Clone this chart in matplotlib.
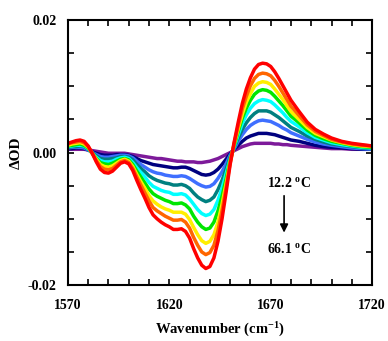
import numpy as np
import matplotlib
matplotlib.use('Agg')
import matplotlib.pyplot as plt
from matplotlib.ticker import MultipleLocator, FixedLocator, FuncFormatter

plt.rcParams['font.family'] = ['Liberation Serif', 'DejaVu Serif']
plt.rcParams['font.weight'] = 'bold'
plt.rcParams['mathtext.fontset'] = 'custom'
plt.rcParams['mathtext.rm'] = 'Liberation Serif:bold'
plt.rcParams['mathtext.it'] = 'Liberation Serif:bold:italic'
plt.rcParams['mathtext.bf'] = 'Liberation Serif:bold'

# wavenumber grid (cm-1)
wn = list(range(1570, 1682, 2)) + [1684, 1688, 1692, 1696, 1700, 1705, 1710, 1715, 1720]

# delta OD (x1e-3), lowest to highest temperature
od_purple = [0.5, 0.5, 0.5, 0.5, 0.5, 0.4, 0.3, 0.2, 0.1, 0.0, -0.1, -0.1, -0.1, -0.1, -0.1, -0.2,
             -0.3, -0.4, -0.5, -0.6, -0.7, -0.8, -0.9, -0.9, -1.0, -1.1, -1.2, -1.3, -1.3, -1.4, -1.4,
             -1.4, -1.5, -1.5, -1.4, -1.3, -1.1, -0.9, -0.6, -0.3, 0.0,
             0.3, 0.6, 0.9, 1.1, 1.3, 1.4, 1.4, 1.4, 1.4, 1.4, 1.3, 1.3, 1.2, 1.2, 1.1,
             1.0, 0.9, 0.8, 0.7, 0.6, 0.6, 0.5, 0.5, 0.5]
od_navy = [0.6, 0.6, 0.7, 0.7, 0.6, 0.4, 0.1, -0.1, -0.3, -0.4, -0.4, -0.4, -0.3, -0.3, -0.3, -0.4,
           -0.6, -0.9, -1.2, -1.4, -1.6, -1.8, -1.9, -2.0, -2.1, -2.2, -2.3, -2.3, -2.2, -2.2, -2.4,
           -2.7, -3.0, -3.3, -3.4, -3.3, -3.0, -2.5, -1.8, -1.0, -0.2,
           0.5, 1.1, 1.7, 2.2, 2.5, 2.7, 2.9, 2.9, 2.9, 2.8, 2.7, 2.5, 2.3, 2.1, 1.9,
           1.7, 1.4, 1.1, 0.9, 0.8, 0.7, 0.6, 0.5, 0.5]
od_blue = [0.7, 0.8, 0.8, 0.8, 0.7, 0.4, 0.0, -0.3, -0.6, -0.7, -0.7, -0.6, -0.5, -0.4, -0.4, -0.5,
           -0.8, -1.3, -1.8, -2.2, -2.6, -2.9, -3.1, -3.2, -3.4, -3.5, -3.6, -3.6, -3.5, -3.6, -3.9,
           -4.3, -4.7, -5.0, -5.2, -5.1, -4.7, -3.9, -2.9, -1.7, -0.4,
           0.6, 1.7, 2.7, 3.5, 4.1, 4.5, 4.8, 4.9, 4.8, 4.7, 4.4, 4.1, 3.7, 3.4, 3.0,
           2.5, 2.0, 1.6, 1.3, 1.1, 0.9, 0.7, 0.6, 0.5]
od_teal = [0.8, 0.9, 0.9, 1.0, 0.9, 0.5, 0.0, -0.5, -0.9, -1.0, -1.0, -0.9, -0.8, -0.6, -0.6, -0.7,
           -1.1, -1.8, -2.4, -2.9, -3.5, -3.9, -4.2, -4.4, -4.6, -4.7, -4.9, -4.9, -4.8, -5.0, -5.4,
           -6.1, -6.7, -7.1, -7.4, -7.2, -6.7, -5.6, -4.2, -2.5, -0.7,
           0.8, 2.2, 3.5, 4.5, 5.3, 5.9, 6.3, 6.3, 6.3, 6.1, 5.7, 5.3, 4.8, 4.3, 3.8,
           3.2, 2.5, 2.0, 1.6, 1.3, 1.1, 0.9, 0.7, 0.6]
od_cyan = [0.9, 1.0, 1.1, 1.1, 1.0, 0.6, -0.1, -0.7, -1.2, -1.4, -1.4, -1.3, -1.0, -0.8, -0.7, -0.9,
           -1.5, -2.3, -3.0, -3.7, -4.5, -5.1, -5.4, -5.7, -5.9, -6.0, -6.3, -6.3, -6.2, -6.4, -7.0,
           -7.8, -8.6, -9.2, -9.5, -9.3, -8.6, -7.2, -5.4, -3.2, -1.0,
           0.9, 2.7, 4.4, 5.7, 6.7, 7.4, 7.8, 8.0, 7.9, 7.7, 7.2, 6.6, 6.0, 5.3, 4.7,
           3.9, 3.0, 2.3, 1.9, 1.5, 1.2, 1.0, 0.8, 0.7]
od_green = [1.0, 1.1, 1.2, 1.3, 1.1, 0.7, -0.1, -0.9, -1.5, -1.7, -1.8, -1.6, -1.3, -1.0, -0.9, -1.1,
            -1.8, -2.8, -3.7, -4.6, -5.5, -6.2, -6.6, -6.9, -7.2, -7.4, -7.7, -7.7, -7.6, -7.9, -8.5,
            -9.6, -10.5, -11.2, -11.6, -11.4, -10.5, -8.8, -6.6, -4.0, -1.2,
            1.1, 3.2, 5.2, 6.7, 7.9, 8.8, 9.3, 9.5, 9.4, 9.1, 8.5, 7.8, 7.1, 6.3, 5.5,
            4.5, 3.4, 2.6, 2.1, 1.7, 1.4, 1.1, 0.9, 0.8]
od_yellow = [1.1, 1.3, 1.4, 1.5, 1.3, 0.8, -0.1, -1.0, -1.8, -2.1, -2.2, -2.0, -1.6, -1.2, -1.0, -1.3,
             -2.1, -3.3, -4.4, -5.4, -6.5, -7.3, -7.8, -8.2, -8.5, -8.7, -9.0, -9.0, -9.0, -9.3, -10.1,
             -11.3, -12.4, -13.3, -13.7, -13.4, -12.4, -10.5, -7.8, -4.7, -1.4,
             1.3, 3.6, 5.8, 7.6, 8.9, 10.0, 10.5, 10.7, 10.6, 10.3, 9.6, 8.8, 8.0, 7.1, 6.2,
             5.0, 3.8, 2.9, 2.4, 1.9, 1.5, 1.2, 1.0, 0.9]
od_orange = [1.3, 1.5, 1.6, 1.7, 1.5, 0.9, -0.1, -1.2, -2.1, -2.5, -2.6, -2.4, -1.9, -1.4, -1.2, -1.5,
             -2.4, -3.7, -4.9, -6.1, -7.3, -8.3, -8.8, -9.2, -9.6, -9.9, -10.2, -10.2, -10.1, -10.5, -11.4,
             -12.8, -14.0, -15.0, -15.4, -15.1, -14.0, -11.8, -8.8, -5.3, -1.6,
             1.4, 4.1, 6.6, 8.5, 10.1, 11.2, 11.8, 12.0, 11.9, 11.6, 10.9, 10.0, 9.0, 8.0, 7.0,
             5.6, 4.2, 3.2, 2.6, 2.0, 1.6, 1.3, 1.1, 1.0]
od_red = [1.4, 1.6, 1.8, 1.9, 1.7, 1.0, -0.1, -1.4, -2.5, -3.0, -3.1, -2.8, -2.2, -1.6, -1.4, -1.7,
          -2.7, -4.2, -5.6, -6.9, -8.3, -9.4, -10.0, -10.5, -10.9, -11.2, -11.6, -11.6, -11.5, -11.9, -12.9,
          -14.5, -15.9, -17.0, -17.5, -17.2, -15.9, -13.4, -10.0, -6.0, -1.8,
          1.6, 4.6, 7.4, 9.6, 11.3, 12.6, 13.3, 13.5, 13.4, 13.0, 12.2, 11.2, 10.1, 9.0, 7.9,
          6.2, 4.6, 3.5, 2.8, 2.2, 1.7, 1.4, 1.2, 1.0]

series = [od_purple, od_navy, od_blue, od_teal, od_cyan, od_green, od_yellow, od_orange, od_red]
colors = ['#7d1a9a', '#00007f', '#3f6fff', '#008080', '#00ffff', '#00e600', '#ffee00', '#ff6600', '#ff0000']

fig = plt.figure(figsize=(3.88, 3.41), dpi=100)
ax = fig.add_axes([0.175, 0.164, 0.784, 0.777])

for vals, c in zip(series, colors):
    ax.plot(wn, np.array(vals) / 1000.0, color=c, lw=2.5, solid_capstyle='round', solid_joinstyle='round')

ax.set_xlim(1570, 1720)
ax.set_ylim(-0.02, 0.02)
ax.xaxis.set_major_locator(FixedLocator([1570, 1620, 1670, 1720]))
ax.xaxis.set_minor_locator(MultipleLocator(10))
ax.yaxis.set_major_locator(FixedLocator([-0.02, 0.0, 0.02]))
ax.yaxis.set_minor_locator(MultipleLocator(0.005))
ax.yaxis.set_major_formatter(FuncFormatter(lambda v, p: '%.2f' % v if abs(v) > 1e-9 else '0.00'))
ax.tick_params(which='both', direction='in', top=True, right=True, width=1.2)
ax.tick_params(which='major', length=4, labelsize=10)
ax.tick_params(which='minor', length=4)
ax.tick_params(axis='x', pad=10)
ax.tick_params(axis='y', pad=8)
for s in ax.spines.values():
    s.set_linewidth(1.5)

ax.set_xlabel('Wavenumber (cm$^{\\mathrm{-1}}$)', fontsize=10.5, fontweight='bold', labelpad=6)
ax.set_ylabel('\u0394OD', fontsize=11, fontweight='bold', labelpad=4)

ax.text(1679, -0.0046, '12.2 $^{\\mathrm{o}}$C', ha='center', va='center', fontsize=10, fontweight='bold')
ax.text(1679, -0.0146, '66.1 $^{\\mathrm{o}}$C', ha='center', va='center', fontsize=10, fontweight='bold')
ax.annotate('', xy=(1676.6, -0.0125), xytext=(1676.6, -0.0061),
            arrowprops=dict(arrowstyle='-|>', color='black', lw=1.2, mutation_scale=12))

fig.savefig('out.png', dpi=100)
